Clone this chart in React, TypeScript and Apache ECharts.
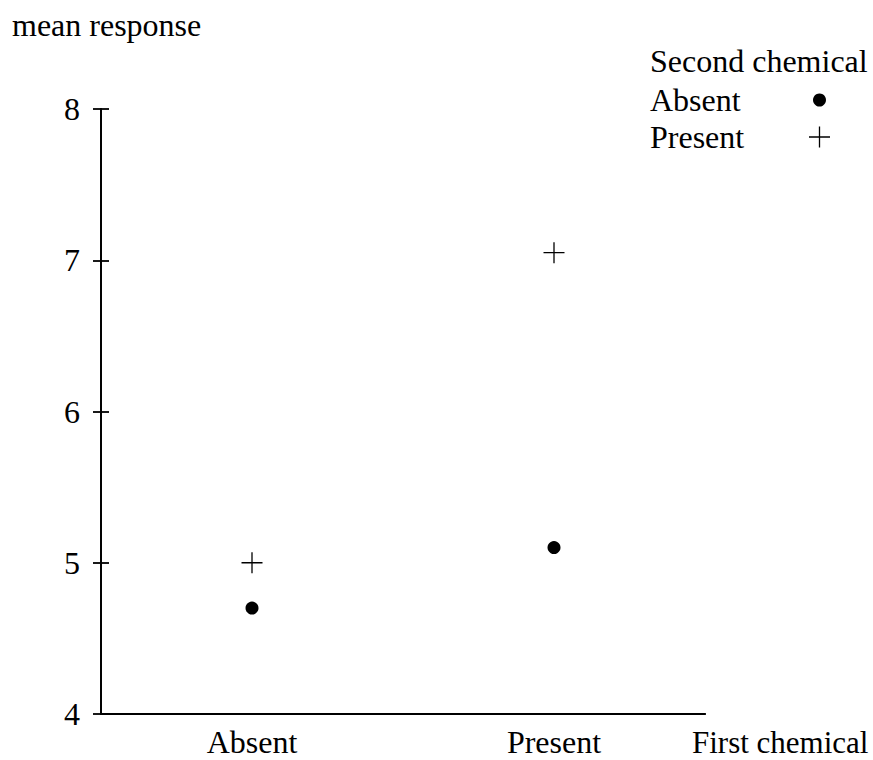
import React, { useEffect, useRef } from "react";
import * as echarts from "echarts";

const firstChemical = ["Absent", "Present"];
const secondAbsent = [4.7, 5.1];
const secondPresent = [5.0, 7.05];
const yTicks = { min: 4, max: 8, interval: 1 };
const FONT = "'Liberation Serif', 'Times New Roman', serif";
const FS = 32;
const PLUS = "path://M0,10L20,10M10,0L10,20";

export default function App() {
  const ref = useRef<HTMLDivElement>(null);
  useEffect(() => {
    const chart = echarts.init(ref.current!, null, { renderer: "svg" });
    const axisLine = { lineStyle: { color: "#000", width: 1.8 } };
    const tickStyle = { color: "#000", width: 1.8 };
    chart.setOption({
      animation: false,
      backgroundColor: "#fff",
      textStyle: { fontFamily: FONT },
      grid: { left: 101, right: 168, top: 109, bottom: 46 },
      xAxis: [
        {
          type: "category",
          data: firstChemical,
          position: "bottom",
          boundaryGap: true,
          axisLine,
          axisTick: { alignWithLabel: true, length: 8, lineStyle: tickStyle },
          axisLabel: { color: "#000", fontSize: FS, fontFamily: FONT, margin: 14, lineHeight: 28 },
          splitLine: { show: false },
        },
        {
          type: "category",
          data: firstChemical,
          position: "bottom",
          boundaryGap: true,
          axisLine,
          axisTick: { alignWithLabel: true, inside: true, length: 8, lineStyle: tickStyle },
          axisLabel: { show: false },
          splitLine: { show: false },
        },
      ],
      yAxis: [
        {
          type: "value",
          min: yTicks.min,
          max: yTicks.max,
          interval: yTicks.interval,
          position: "left",
          axisLine: { show: true, ...axisLine },
          axisTick: { show: true, length: 8, lineStyle: tickStyle },
          axisLabel: { color: "#000", fontSize: FS, fontFamily: FONT, margin: 21 },
          splitLine: { show: false },
        },
        {
          type: "value",
          min: yTicks.min,
          max: yTicks.max,
          interval: yTicks.interval,
          position: "left",
          axisLine: { show: true, ...axisLine },
          axisTick: { show: true, inside: true, length: 8, lineStyle: tickStyle },
          axisLabel: { show: false },
          splitLine: { show: false },
        },
      ],
      legend: [
        {
          data: [{ name: "Absent", icon: "circle" }],
          left: 650,
          top: 84,
          padding: 0,
          orient: "vertical",
          align: "right",
          itemWidth: 13,
          itemHeight: 13,
          selectedMode: false,
          formatter: "{a|{name}}",
          textStyle: {
            color: "#000",
            fontSize: FS,
            fontFamily: FONT,
            rich: { a: { width: 158, align: "left", fontSize: FS, fontFamily: FONT, color: "#000", lineHeight: 32 } },
          },
        },
        {
          data: [{ name: "Present", icon: PLUS }],
          left: 650,
          top: 121,
          padding: 0,
          orient: "vertical",
          align: "right",
          itemWidth: 21,
          itemHeight: 21,
          selectedMode: false,
          itemStyle: { color: "none", borderColor: "#000", borderWidth: 1.3, opacity: 1 },
          formatter: "{a|{name}}",
          textStyle: {
            color: "#000",
            fontSize: FS,
            fontFamily: FONT,
            rich: { a: { width: 154, align: "left", fontSize: FS, fontFamily: FONT, color: "#000", lineHeight: 32 } },
          },
        },
      ],
      graphic: [
        {
          type: "text",
          left: 12,
          top: 9,
          style: { text: "mean response", fontSize: FS, fontFamily: FONT, fill: "#000" },
        },
        {
          type: "text",
          left: 650,
          top: 45,
          style: { text: "Second chemical", fontSize: FS, fontFamily: FONT, fill: "#000" },
        },
        {
          type: "text",
          left: 692,
          top: 727,
          style: { text: "First chemical", fontSize: 31, lineHeight: 28, fontFamily: FONT, fill: "#000" },
        },
      ],
      series: [
        {
          name: "Absent",
          type: "scatter",
          data: secondAbsent,
          symbol: "circle",
          symbolSize: 13,
          itemStyle: { color: "#000", opacity: 1 },
        },
        {
          name: "Present",
          type: "scatter",
          data: secondPresent,
          symbol: PLUS,
          symbolSize: 21,
          itemStyle: { color: "none", borderColor: "#000", borderWidth: 1.3, opacity: 1 },
        },
      ],
    });
    return () => chart.dispose();
  }, []);
  return <div ref={ref} style={{ width: 873, height: 760, position: "absolute", left: 0, top: 0 }} />;
}
